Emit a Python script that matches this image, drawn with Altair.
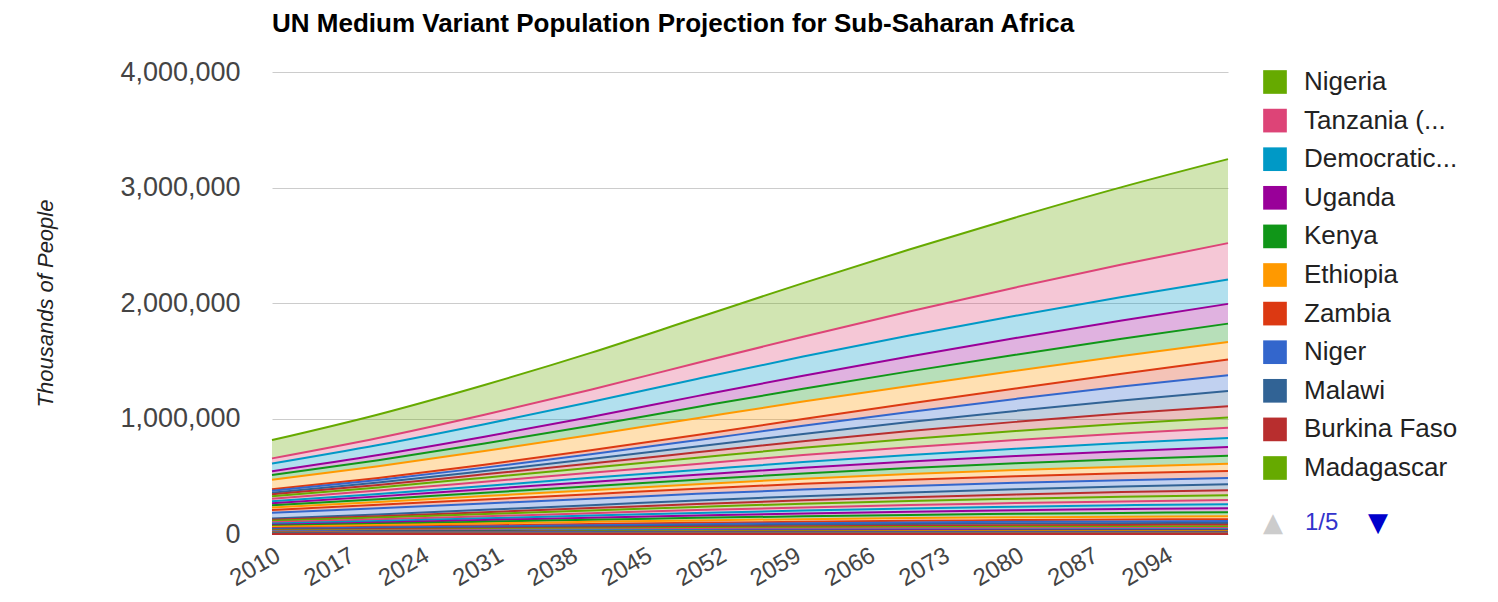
import altair as alt
import pandas as pd

years = [2010, 2020, 2030, 2040, 2050, 2060, 2070, 2080, 2090, 2100]
tick_years = [2010, 2017, 2024, 2031, 2038, 2045, 2052, 2059, 2066, 2073, 2080, 2087, 2094]
y_ticks = [0, 1000000, 2000000, 3000000, 4000000]

names = [
    "Nigeria", "Tanzania (United Republic of)", "Democratic Republic of the Congo", "Uganda", "Kenya",
    "Ethiopia", "Zambia", "Niger", "Malawi", "Burkina Faso", "Madagascar",
    "Mozambique", "Mali", "Angola", "Cameroon", "Côte d'Ivoire", "Ghana", "South Africa", "Chad",
    "Somalia", "Senegal", "Rwanda", "Guinea", "Burundi", "Benin", "Zimbabwe",
    "Sierra Leone", "Togo", "Eritrea", "Liberia", "Congo", "Central African Republic", "Mauritania",
    "Gambia", "Namibia", "Guinea-Bissau", "Gabon", "Botswana", "Lesotho", "Comoros",
    "Equatorial Guinea", "Swaziland", "Djibouti", "Mauritius", "Réunion", "Cape Verde",
    "Mayotte", "Sao Tome and Principe", "Seychelles", "Saint Helena",
]

nigeria = [158400, 203900, 257800, 318900, 389600, 464000, 537000, 606000, 670000, 727000]
tanzania = [44800, 61000, 82000, 107000, 138300, 172000, 208000, 245000, 281000, 316000]
drc = [66000, 86000, 108000, 129000, 148500, 166000, 181000, 193000, 203000, 210000]
uganda = [33400, 45000, 59000, 76000, 94300, 112000, 129000, 145000, 159000, 171000]
kenya = [40500, 52000, 65000, 80000, 96900, 112000, 126000, 139000, 150000, 160000]
ethiopia = [83000, 102000, 119000, 133000, 145200, 151000, 153000, 153000, 152000, 150000]
zambia = [13100, 18000, 25000, 34000, 45000, 58000, 73000, 90000, 112000, 138000]
niger = [15500, 22000, 30000, 41000, 55400, 71000, 87000, 104000, 120000, 135000]
malawi = [14900, 20000, 28000, 38000, 49700, 63000, 78000, 95000, 113000, 132000]
burkina = [16500, 22000, 29000, 37000, 46700, 57000, 68000, 79000, 89000, 98000]
madagascar = [20700, 27000, 35000, 44000, 53600, 63000, 71000, 78000, 84000, 89000]
mozambique = [23400, 29500, 36500, 44000, 52000, 60000, 68000, 75000, 82000, 88000]
mali = [15400, 21000, 28000, 36000, 42000, 50000, 57000, 64000, 71000, 78000]
angola = [19100, 25000, 31000, 37000, 42300, 49000, 56000, 63000, 70000, 77000]
cameroon = [19600, 24000, 29000, 34000, 39000, 46000, 52000, 58000, 64000, 69000]
cote_divoire = [19700, 24000, 29000, 34000, 39000, 44000, 49000, 54000, 58000, 62000]
ghana = [24400, 30000, 35000, 40000, 45000, 50000, 54000, 57000, 59000, 61000]
south_africa = [50100, 53000, 55000, 56000, 57000, 57000, 56000, 55000, 54000, 53000]
chad = [11200, 15000, 20000, 25000, 31000, 36000, 41000, 45000, 49000, 52000]
somalia = [9300, 12000, 16000, 20000, 25000, 29000, 33000, 37000, 40000, 43000]
senegal = [12400, 16000, 20000, 24000, 28000, 32000, 35000, 38000, 41000, 43000]
rwanda = [10600, 14000, 17000, 21000, 24000, 27000, 29500, 31500, 33500, 35000]
guinea = [10000, 13000, 16000, 19000, 23000, 26000, 29000, 31000, 33000, 35000]
burundi = [8400, 11000, 14000, 17000, 20000, 24000, 27000, 30000, 33000, 35000]
benin = [8900, 11500, 14500, 18000, 22000, 25000, 28000, 31000, 33000, 35000]
zimbabwe = [12600, 15000, 17500, 19500, 21000, 22500, 23500, 24000, 24500, 25000]
sierra_leone = [5900, 7000, 8500, 10000, 11500, 12800, 14000, 15000, 16000, 16500]
togo = [6000, 7500, 9000, 10500, 12000, 13000, 14000, 14800, 15300, 15700]
eritrea = [5300, 7000, 8500, 10000, 11500, 12800, 14000, 15000, 15800, 16300]
liberia = [4000, 5200, 6600, 8000, 9500, 11000, 12300, 13400, 14300, 15000]
congo = [4000, 5200, 6400, 7600, 8800, 9900, 10900, 11700, 12400, 13000]
car = [4400, 5300, 6300, 7300, 8300, 9100, 9800, 10400, 10800, 11000]
mauritania = [3500, 4300, 5100, 5800, 6400, 6900, 7300, 7600, 7800, 8000]
gambia = [1700, 2300, 2900, 3500, 4000, 4500, 4900, 5200, 5400, 5600]
namibia = [2300, 2600, 3000, 3300, 3500, 3700, 3800, 3900, 3900, 3900]
guinea_bissau = [1500, 1900, 2300, 2700, 3100, 3400, 3700, 3900, 4100, 4200]
gabon = [1500, 1800, 2100, 2400, 2700, 2900, 3000, 3100, 3150, 3200]
botswana = [2000, 2300, 2500, 2700, 2800, 2850, 2850, 2800, 2750, 2700]
lesotho = [2200, 2300, 2450, 2550, 2650, 2700, 2700, 2650, 2600, 2500]
comoros = [700, 900, 1100, 1300, 1500, 1650, 1800, 1900, 2000, 2100]
eq_guinea = [700, 900, 1100, 1300, 1450, 1600, 1700, 1800, 1850, 1900]
swaziland = [1200, 1300, 1450, 1550, 1650, 1700, 1750, 1750, 1750, 1700]
djibouti = [900, 1050, 1200, 1350, 1450, 1500, 1550, 1550, 1550, 1500]
mauritius = [1300, 1350, 1400, 1380, 1330, 1260, 1180, 1100, 1040, 1000]
reunion = [850, 920, 990, 1040, 1070, 1080, 1080, 1070, 1050, 1030]
cape_verde = [500, 550, 600, 640, 660, 670, 660, 650, 630, 610]
mayotte = [200, 270, 340, 400, 450, 490, 520, 540, 550, 560]
sao_tome = [165, 210, 250, 290, 320, 350, 370, 390, 400, 410]
seychelles = [87, 92, 96, 98, 99, 99, 98, 97, 96, 95]
saint_helena = [4, 4, 4, 4, 4, 4, 4, 4, 4, 4]

series = [
    nigeria, tanzania, drc, uganda, kenya, ethiopia, zambia, niger, malawi, burkina, madagascar,
    mozambique, mali, angola, cameroon, cote_divoire, ghana, south_africa, chad, somalia, senegal,
    rwanda, guinea, burundi, benin, zimbabwe, sierra_leone, togo, eritrea, liberia, congo, car,
    mauritania, gambia, namibia, guinea_bissau, gabon, botswana, lesotho, comoros, eq_guinea,
    swaziland, djibouti, mauritius, reunion, cape_verde, mayotte, sao_tome, seychelles, saint_helena,
]

palette = ["#66aa00", "#dd4477", "#0099c6", "#990099", "#109618",
           "#ff9900", "#dc3912", "#3366cc", "#316395", "#b82e2e"]
colors = [palette[i % len(palette)] for i in range(len(names))]

rows = []
for i, (name, vals) in enumerate(zip(names, series)):
    for yr, v in zip(years, vals):
        rows.append({"country": name, "year": yr, "pop": v, "idx": i})
df = pd.DataFrame(rows)

FONT = "Liberation Sans"

area = alt.Chart(df).mark_area(
    fillOpacity=0.3, interpolate="monotone",
    line={"strokeWidth": 2},
).encode(
    x=alt.X("year:Q", title=None,
            scale=alt.Scale(domain=[2010, 2100], nice=False, zero=False),
            axis=alt.Axis(values=tick_years, format="d", labelAngle=330, grid=False,
                          ticks=False, domain=False, labelFontSize=24, labelColor="#444444",
                          labelFont=FONT, labelPadding=9, labelOverlap=False)),
    y=alt.Y("pop:Q", stack="zero", title="Thousands of People",
            scale=alt.Scale(domain=[0, 4000000], nice=False),
            axis=alt.Axis(values=y_ticks, format=",d", ticks=False, domain=False,
                          labelFontSize=27, labelColor="#444444", labelFont=FONT,
                          labelPadding=32, gridColor="#cccccc", gridWidth=1,
                          titleFont=FONT, titleFontSize=22, titleFontStyle="italic",
                          titleFontWeight="normal", titleColor="#222222", titlePadding=62)),
    color=alt.Color("country:N",
                    scale=alt.Scale(domain=names, range=colors),
                    legend=alt.Legend(values=names[:11], title=None, orient="none",
                                      legendX=990, legendY=-3, padding=0,
                                      symbolType="square", symbolSize=560, symbolOpacity=1,
                                      symbolStrokeWidth=0,
                                      labelFontSize=26, labelColor="#222222", labelFont=FONT,
                                      labelOffset=16, rowPadding=12.6, labelLimit=260,
                                      labelExpr="length(datum.label) > 12 ? substring(datum.label, 0, 10) + '...' : datum.label")),
    order=alt.Order("idx:Q", sort="descending"),
)

pager = pd.DataFrame({"t": ["1/5"]})
up = alt.Chart(pager).mark_text(text="▲", fontSize=26, color="#cccccc", font="DejaVu Sans",
                                align="center", baseline="middle").encode(
    x=alt.value(1001), y=alt.value(451))
page = alt.Chart(pager).mark_text(fontSize=24, color="#3333cc", font=FONT,
                                  align="left", baseline="middle").encode(
    text="t:N", x=alt.value(1033), y=alt.value(451))
down = alt.Chart(pager).mark_text(text="▼", fontSize=26, color="#0000cc", font="DejaVu Sans",
                                  align="center", baseline="middle").encode(
    x=alt.value(1106), y=alt.value(451))

chart = alt.layer(area, up, page, down).properties(
    width=956, height=462,
    title=alt.TitleParams("UN Medium Variant Population Projection for Sub-Saharan Africa",
                          anchor="start", frame="group", font=FONT, fontSize=26,
                          fontWeight="bold", color="#000000", offset=21),
    padding={"left": 264, "top": 64, "right": 262, "bottom": 56},
    autosize=alt.AutoSizeParams(type="none"),
).configure_view(stroke=None)

chart.save("out.html", embed_options={"renderer": "svg", "actions": False})
